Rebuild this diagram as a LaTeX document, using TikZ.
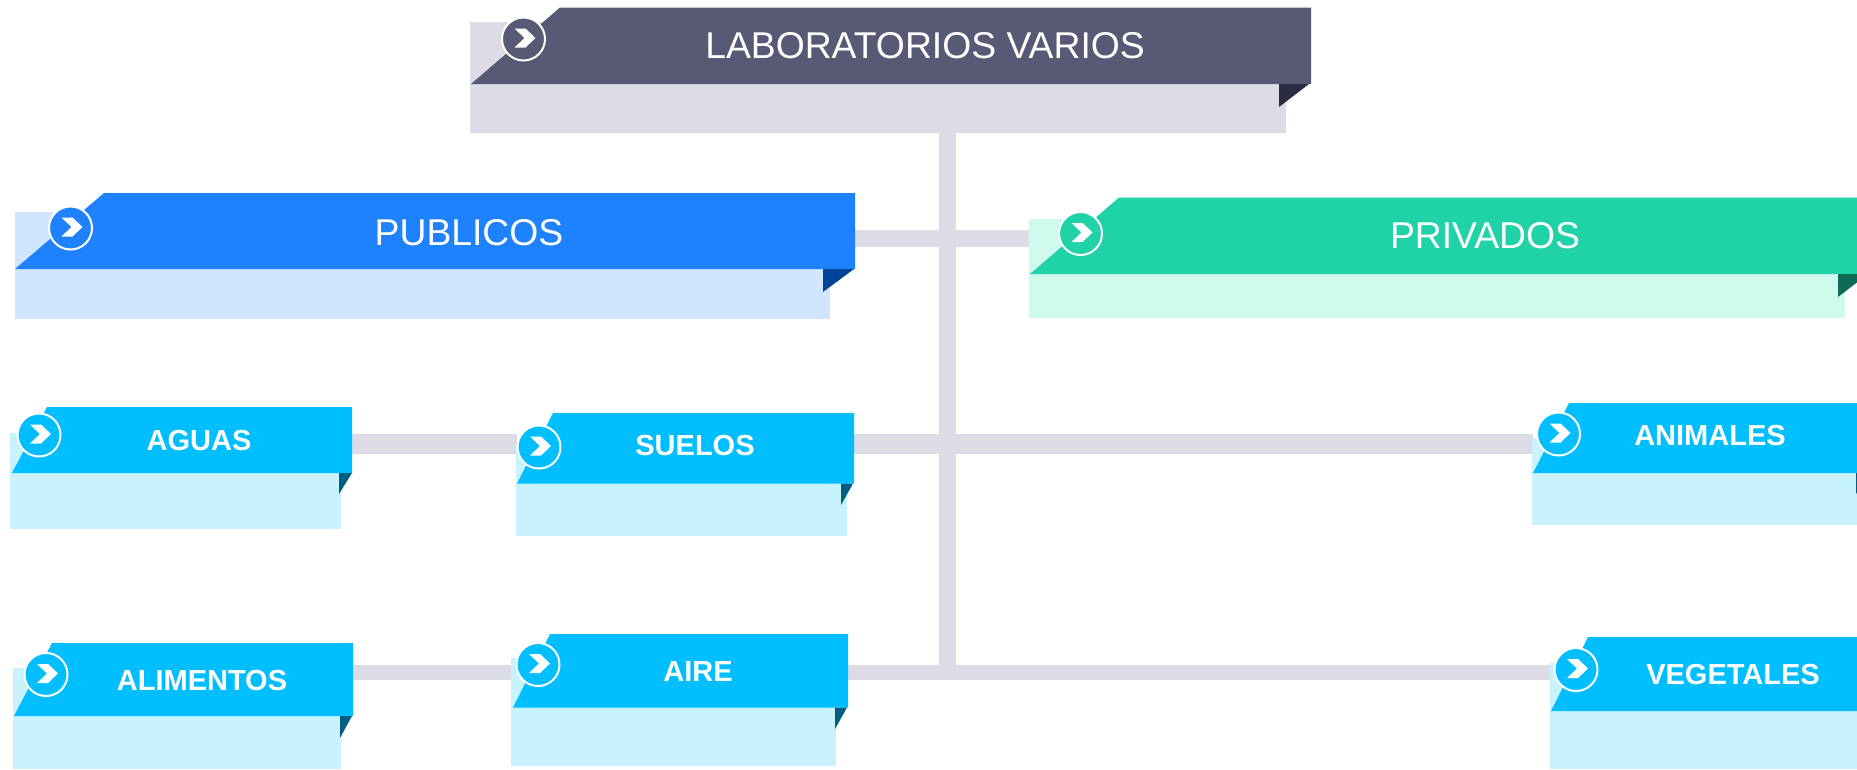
\documentclass[tikz,border=0pt]{standalone}
\usepackage{fontspec}
\setmainfont{Liberation Sans}
\usetikzlibrary{backgrounds}
\definecolor{labD}{HTML}{585A75}\definecolor{labL}{HTML}{DCDCE6}\definecolor{labF}{HTML}{2A2C40}
\definecolor{pubD}{HTML}{1E82FF}\definecolor{pubL}{HTML}{D2E5FF}\definecolor{pubF}{HTML}{00449A}
\definecolor{priD}{HTML}{20D2A8}\definecolor{priL}{HTML}{CEF9EC}\definecolor{priF}{HTML}{0F6B55}
\definecolor{subD}{HTML}{00BEFF}\definecolor{subL}{HTML}{C9F2FF}\definecolor{subF}{HTML}{005F80}
\tikzset{
  conn/.style={draw=labL,line width=17pt},
  band/.style={inner sep=0pt,outer sep=0pt,rectangle},
  bigtext/.style={text=white,font=\fontsize{37.3}{37.3}\selectfont,inner sep=0pt},
  smalltext/.style={text=white,font=\fontsize{29}{29}\bfseries\selectfont,inner sep=0pt},
  ring/.style={circle,draw=white,line width=2pt,minimum size=43pt,inner sep=0pt},
}
% \card{name}{colour prefix}{light x1,y1,x2,y2}{left,slant,right,top,bottom}{fold x,tip x,tip y}
\newcommand{\card}[5]{%
  \def\pfx{#2}%
  \cardlight{#1}#3\relax
  \cardband{#1}#4\relax
  \cardfold#5\relax
}
\def\cardlight#1#2,#3,#4,#5\relax{\fill[\pfx L] (#2,#3) rectangle (#4,#5);}
\def\cardband#1#2,#3,#4,#5,#6\relax{%
  \fill[\pfx D] (#2,#6) -- (#3,#5) -- (#4,#5) -- (#4,#6) -- cycle;
  \node[band,minimum width=#4pt-#2pt,minimum height=#6pt-#5pt] (#1) at ({(#2+#4)/2},{(#5+#6)/2}) {};
  \def\foldy{#6}\def\foldr{#4}}
\def\cardfold#1,#2,#3\relax{\fill[\pfx F] (#1,\foldy) -- (#2,\foldy) -- (#1,#3) -- cycle;}
\newcommand{\badge}[4]{%
  \node[ring,fill=#4] (#1) at (#2,#3) {};
  \fill[white,shift={(#2,#3)}] (-9,-10.5) -- (2,-10.5) -- (12,-1) -- (2,8.5) -- (-9,8.5) -- (1,-1) -- cycle;
}
\begin{document}
\begin{tikzpicture}[x=1pt,y=-1pt]
\path[use as bounding box,clip] (0,0) rectangle (1857,769);
\coordinate (spine) at (947.3,0);
\coordinate (rowA) at (0,238);
\coordinate (rowB) at (0,444);
\coordinate (rowC) at (0,672.5);
\coordinate (spineEnd) at (947.3,680);

\card{lab}{lab}{470,22,1286,133}{471,560,1311,7.5,84}{1279,1309,107}
\card{pub}{pub}{15,212,830,319}{15,104,855,193,269}{823,854,292}
\card{pri}{pri}{1029,219,1845,318}{1030,1119,1880,197.5,274}{1838,1868,297}
\card{agu}{sub}{10,433,341,529}{12,47,352,407,473}{339,352,494}
\card{sue}{sub}{516,445,847,536}{517,553,854,413,483.5}{841,853,505}
\card{ani}{sub}{1532,438,1858,525}{1533,1569,1869,403,473}{1856,1868,494}
\card{ali}{sub}{13,668,341,769}{14,52,353,643,716}{340,352,738}
\card{air}{sub}{511,658,836,766}{513,550,848,634,707.5}{835,847,729}
\card{veg}{sub}{1550,663,1880,769}{1551,1588,1890,637,711}{1878,1890,732}

\begin{scope}[on background layer]
\draw[conn] (spine |- lab.south) -- (spine |- spineEnd);
\draw[conn] (pub.east |- rowA) -- (pri.west |- rowA);
\draw[conn,line width=20pt] (agu.east |- rowB) -- (sue.west |- rowB);
\draw[conn,line width=20pt] (sue.east |- rowB) -- (ani.west |- rowB);
\draw[conn,line width=15pt] (ali.east |- rowC) -- (air.west |- rowC);
\draw[conn,line width=15pt] (air.east |- rowC) -- (veg.west |- rowC);
\end{scope}

\badge{labB}{523.5}{39}{labD}
\badge{pubB}{70.5}{228}{pubD}
\badge{priB}{1080.5}{233.5}{priD}
\badge{aguB}{39}{435}{subD}
\badge{sueB}{539}{447}{subD}
\badge{aniB}{1558.5}{434}{subD}
\badge{aliB}{46}{674.5}{subD}
\badge{airB}{538}{664.5}{subD}
\badge{vegB}{1576}{669.5}{subD}

\node[bigtext] (labT) at (925,46) {LABORATORIOS VARIOS};
\node[bigtext] (pubT) at (469,233) {PUBLICOS};
\node[bigtext] (priT) at (1485,236) {PRIVADOS};
\node[smalltext] (aguT) at (199,440.5) {AGUAS};
\node[smalltext] (sueT) at (695,446) {SUELOS};
\node[smalltext] (aniT) at (1710,435.5) {ANIMALES};
\node[smalltext] (aliT) at (202,680.5) {ALIMENTOS};
\node[smalltext] (airT) at (698,671.5) {AIRE};
\node[smalltext] (vegT) at (1733,674.5) {VEGETALES};
\end{tikzpicture}
\end{document}
